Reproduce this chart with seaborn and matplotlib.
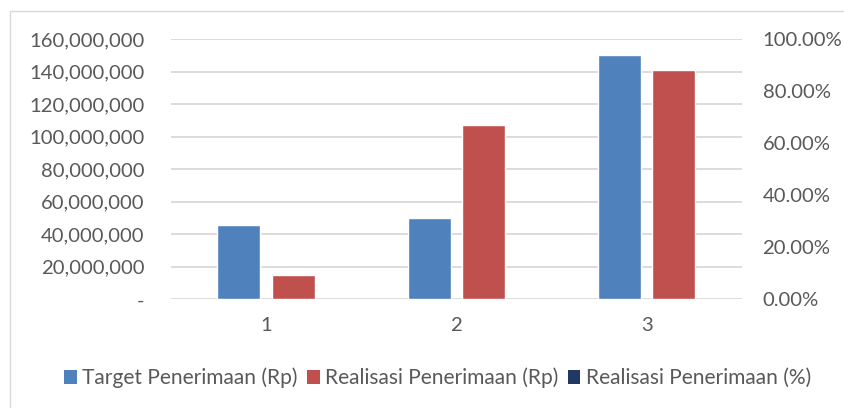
import pandas as pd
import matplotlib
matplotlib.use("Agg")
import matplotlib.pyplot as plt
import seaborn as sns
from matplotlib.patches import Patch, Rectangle
from matplotlib.ticker import FuncFormatter

# === DATA ===
categories = ["1", "2", "3"]
target_rp = [45500000, 50000000, 150000000]
realisasi_rp = [14700000, 107000000, 141000000]
series_names = ["Target Penerimaan (Rp)", "Realisasi Penerimaan (Rp)", "Realisasi Penerimaan (%)"]
left_ticks = [0, 20000000, 40000000, 60000000, 80000000, 100000000, 120000000, 140000000, 160000000]
right_ticks = [0.0, 0.2, 0.4, 0.6, 0.8, 1.0]

colors = ["#4F81BD", "#C0504D", "#1F3864"]
text_color = "#595959"
grid_color = "#D9D9D9"
fs = 14.6

sns.set_theme(style="white")
plt.rcParams["font.family"] = ["Lato", "DejaVu Sans"]

df = pd.DataFrame({
    "kategori": categories * 2,
    "nilai": target_rp + realisasi_rp,
    "seri": [series_names[0]] * 3 + [series_names[1]] * 3,
})

fig = plt.figure(figsize=(8.45, 4.08), dpi=100)
ax = fig.add_axes([171 / 845, 1 - 299.3 / 408, (741.7 - 171) / 845, (299.3 - 39) / 408])

# --- Bars ---
sns.barplot(data=df, x="kategori", y="nilai", hue="seri", order=categories,
            hue_order=series_names[:2], palette=colors[:2], width=0.572, gap=0.21,
            saturation=1, ax=ax, legend=False, zorder=3)

# --- Left axis ---
ax.set_ylim(0, 160000000)
ax.set_xlim(-0.5, 2.5)
ax.set_yticks(left_ticks)
ax.yaxis.set_major_formatter(FuncFormatter(lambda v, p: "-" if v == 0 else f"{v:,.0f}"))
ax.grid(axis="y", color=grid_color, linewidth=1.3, zorder=0)
ax.set_axisbelow(True)
for s in ax.spines.values():
    s.set_visible(False)
ax.tick_params(axis="y", length=0, pad=19, labelsize=fs, labelcolor=text_color)
ax.tick_params(axis="x", length=0, pad=13, labelsize=fs, labelcolor=text_color)
ax.set_xlabel("")
ax.set_ylabel("")

# --- Right axis (%) ---
ax2 = ax.twinx()
ax2.set_ylim(0, 1)
ax2.set_yticks(right_ticks)
ax2.yaxis.set_major_formatter(FuncFormatter(lambda v, p: f"{v * 100:.2f}%"))
for s in ax2.spines.values():
    s.set_visible(False)
ax2.tick_params(axis="y", length=0, pad=15, labelsize=fs, labelcolor=text_color)
ax2.grid(False)

# --- Legend ---
handles = [Patch(facecolor=c, edgecolor="none") for c in colors]
fig.legend(handles, series_names, loc="center", bbox_to_anchor=(0.518, 0.0735), ncol=3,
           frameon=False, fontsize=15.1, labelcolor=text_color, handlelength=0.6,
           handleheight=0.6, handletextpad=0.25, columnspacing=0.45, borderpad=0)

# --- Outer chart border ---
fig.patches.append(Rectangle((10 / 845, -0.1), 1.2, 1.1 - 11 / 408, transform=fig.transFigure,
                             fill=False, edgecolor="#D9D9D9", linewidth=1.0))

fig.savefig("out.png", dpi=100)
